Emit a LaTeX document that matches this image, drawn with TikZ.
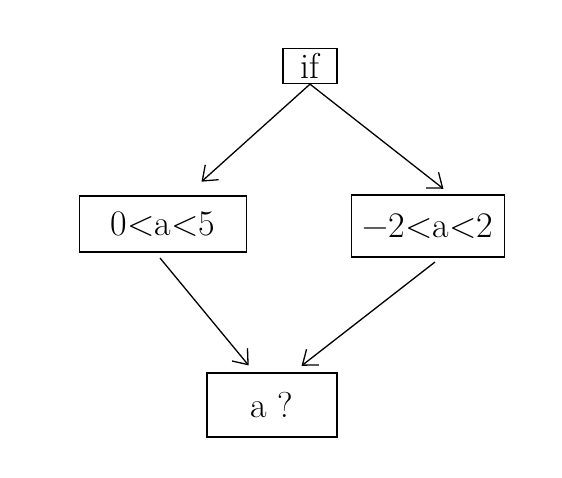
\documentclass[tikz,border=0pt]{standalone}
\usepackage{fontspec}
\usepackage{tikz}
\usetikzlibrary{arrows.meta,positioning}

\begin{document}
\begin{tikzpicture}[
    x = 1pt, y = -1pt, % pixel-like units
    > = {Straight Barb[length=13pt,width=20pt]}, % arrow head style
    shorten > = 2pt, % don't touch arrow head to node
    line width = 1.3pt % line style
    ]

    \tikzset{box/.style={
    draw = black,
    line width = 1.3pt,
    fill = white,
    inner sep = 0pt,
    font = \fontsize{36}{40}\selectfont
    }}
    \useasboundingbox (0,0) rectangle (562,477);

    \node[box, minimum width=54pt, minimum height=35pt] (cond) at (310,66) {if};
    \node[box, minimum width=167pt, minimum height=56pt] (left) at (163,224) {0<a<5};
    \node[box, minimum width=153pt, minimum height=62pt] (right) at (428,226) {−2<a<2};
    \node[box, minimum width=130pt, minimum height=64pt] (res) at (272,405) {a ?};

    \path[->] (cond.south) edge (200,183);
    \path[->] (cond.south) edge (445,190);
    \path[->] (160,258) edge (250,367);
    \path[->] (435,262) edge (300,367);
\end{tikzpicture}
\end{document}
